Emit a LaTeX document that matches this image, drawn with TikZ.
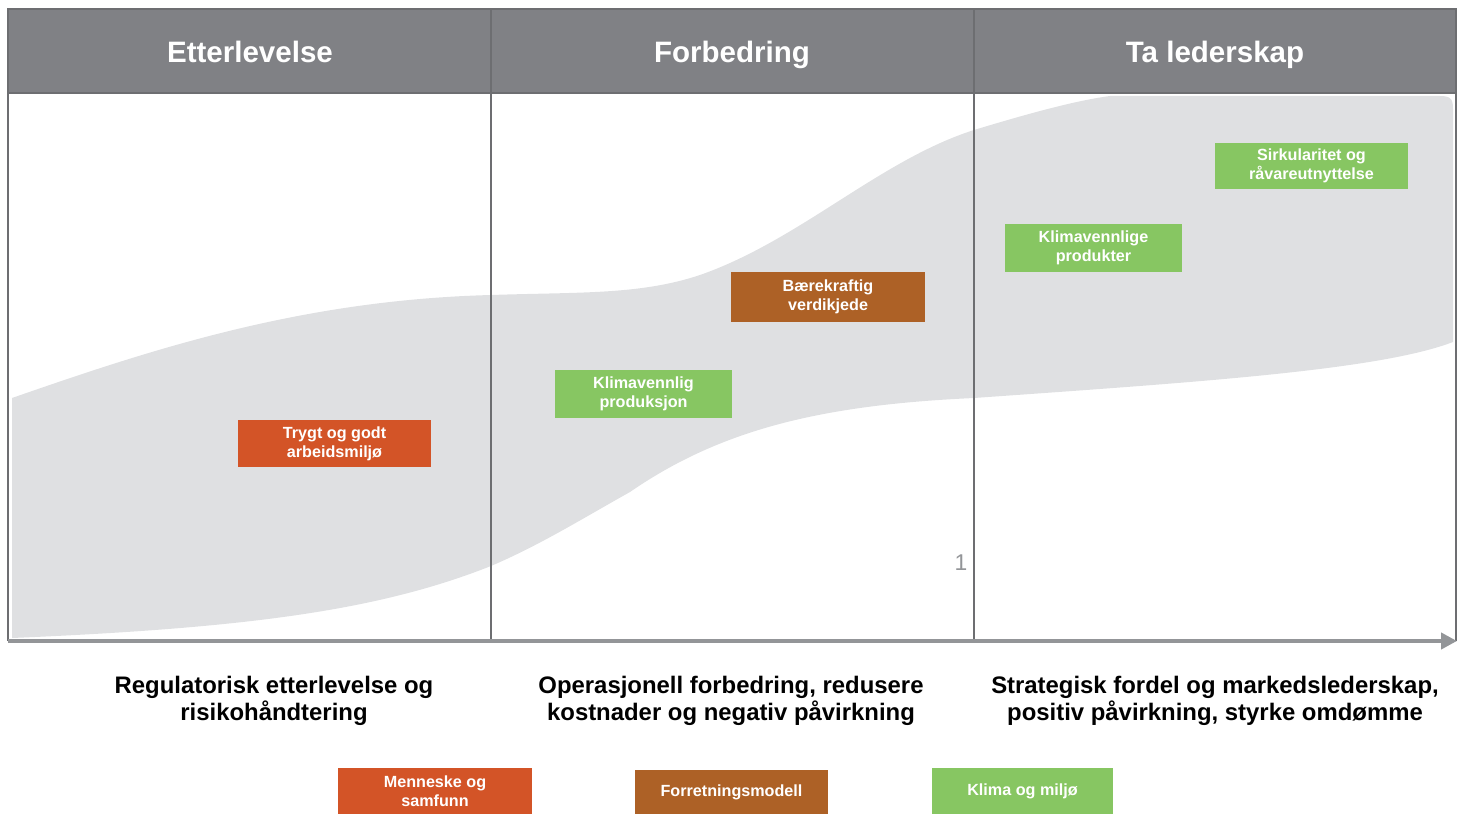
\documentclass[tikz,border=0pt]{standalone}
\usepackage{fontspec}
\setmainfont{Liberation Sans}
\usepackage{tikz}
\usetikzlibrary{arrows.meta}
\usepackage{xcolor}
\definecolor{headgray}{HTML}{808185}
\definecolor{linegray}{HTML}{6D6E71}
\definecolor{axisgray}{HTML}{939598}
\definecolor{bandgray}{HTML}{DFE0E2}
\definecolor{peopleorange}{HTML}{D35427}
\definecolor{bizbrown}{HTML}{AD6126}
\definecolor{climagreen}{HTML}{87C662}

\tikzset{
  topic/.style={text=white, font=\fontsize{9.2}{10.8}\selectfont\bfseries, align=center, inner sep=0pt},
  phase/.style={text=white, font=\fontsize{16.8}{19}\selectfont\bfseries, anchor=base},
  goal/.style={font=\fontsize{13.6}{15.5}\selectfont\bfseries, align=center}
}

\begin{document}
\begin{tikzpicture}[x=0.02cm, y=-0.02cm]
\useasboundingbox (0,0) rectangle (1466,814);

% gray band
\fill [bandgray] (12,398) .. controls (150,350) and (300,300) .. (491,295)
  .. controls (580,292) and (640,295) .. (700,275)
  .. controls (800,240) and (880,160) .. (974,130)
  .. controls (1040,110) and (1080,100) .. (1110,96) -- (1440,96)
  .. controls (1452,96) and (1453,100) .. (1453,110) -- (1453,342)
  .. controls (1380,370) and (1200,382) .. (974,398)
  .. controls (820,405) and (720,430) .. (630,492)
  .. controls (580,520) and (540,545) .. (491,566)
  .. controls (380,610) and (250,628) .. (12,638) -- cycle;

% header
\fill [headgray] (8,9) rectangle (1456,93);
\draw [linegray, line width=1.1pt] (8,641) -- (8,9) -- (1456,9) -- (1456,641);
\draw [linegray, line width=1.1pt] (8,93) -- (1456,93);
\draw [linegray, line width=0.9pt] (491,9) -- (491,641);
\draw [linegray, line width=0.9pt] (974,9) -- (974,641);
\node [phase] (h1) at (250,63) {Etterlevelse};
\node [phase] (h2) at (732,63) {Forbedring};
\node [phase] (h3) at (1215,63) {Ta lederskap};

% axis
\coordinate (a0) at (8,641);
\coordinate (a1) at (1457,641);
\draw [axisgray, line width=2.3pt, -{Triangle[length=9pt, width=9pt]}] (a0) -- (a1);
\node [text=axisgray, font=\fontsize{13}{15}\selectfont] (one) at (961,563) {1};

% topics
\node [topic, fill=peopleorange, minimum width=3.86cm, minimum height=0.94cm] (trygt) at (334.5,443.5) {Trygt og godt\\arbeidsmilj\o};
\node [topic, fill=climagreen, minimum width=3.54cm, minimum height=0.96cm] (prod) at (643.5,394) {Klimavennlig\\produksjon};
\node [topic, fill=bizbrown, minimum width=3.88cm, minimum height=1.0cm] (kjede) at (828,297) {B\ae rekraftig\\verdikjede};
\node [topic, fill=climagreen, minimum width=3.54cm, minimum height=0.96cm] (produkter) at (1093.5,248) {Klimavennlige\\produkter};
\node [topic, fill=climagreen, minimum width=3.86cm, minimum height=0.92cm] (sirk) at (1311.5,166) {Sirkularitet og\\r\aa vareutnyttelse};

% goals
\node [goal] (g1) at (274,701) {Regulatorisk etterlevelse og\\risikoh\aa ndtering};
\node [goal] (g2) at (731,701) {Operasjonell forbedring, redusere\\kostnader og negativ p\aa virkning};
\node [goal] (g3) at (1215,701) {Strategisk fordel og markedslederskap,\\positiv p\aa virkning, styrke omd\o mme};

% legend
\node [topic, fill=peopleorange, minimum width=3.88cm, minimum height=0.92cm] (leg1) at (435,791) {Menneske og\\samfunn};
\node [topic, fill=bizbrown, minimum width=3.86cm, minimum height=0.88cm] (leg2) at (731.5,792) {Forretningsmodell};
\node [topic, fill=climagreen, minimum width=3.62cm, minimum height=0.92cm] (leg3) at (1022.5,791) {Klima og milj\o};

\end{tikzpicture}
\end{document}
